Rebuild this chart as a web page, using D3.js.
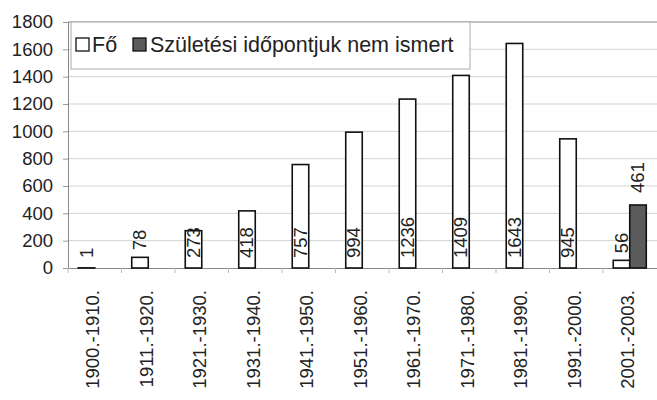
<!DOCTYPE html>
<html>
<head>
<meta charset="utf-8">
<script src="https://cdn.jsdelivr.net/npm/d3@7"></script>
<style>
  body { margin: 0; background: #fff; }
  text { font-family: "Liberation Sans", Arial, sans-serif; fill: #222; }
</style>
</head>
<body>
<svg id="chart" width="657" height="400"></svg>
<script>
// decades on the x axis
const categories = ['1900.-1910.', '1911.-1920.', '1921.-1930.', '1931.-1940.', '1941.-1950.',
  '1951.-1960.', '1961.-1970.', '1971.-1980.', '1981.-1990.', '1991.-2000.', '2001.-2003.'];
// "Fő" series
const foValues = [1, 78, 273, 418, 757, 994, 1236, 1409, 1643, 945, 56];
// "Születési időpontjuk nem ismert" – only the last group has a value
const unknownValues = [null, null, null, null, null, null, null, null, null, null, 461];
const yTicks = [0, 200, 400, 600, 800, 1000, 1200, 1400, 1600, 1800];
const seriesNames = ['Fő', 'Születési időpontjuk nem ismert'];

const svg = d3.select('#chart');
const m = {top: 22, left: 68, bottom: 132, right: 0.5};
const W = 657, H = 400;
const plotBottom = H - m.bottom;

const x = d3.scaleBand().domain(categories).range([m.left, W - m.right]);
const xs = d3.scaleBand().domain([0, 1]).range([0, x.bandwidth()]).paddingOuter(0.62).paddingInner(0);
const y = d3.scaleLinear().domain([0, 1800]).range([plotBottom, m.top]);

// gridlines
svg.append('g').selectAll('line').data(yTicks.filter(t => t > 0 && t < 1800)).join('line')
  .attr('x1', m.left).attr('x2', W).attr('y1', d => y(d)).attr('y2', d => y(d))
  .attr('stroke', '#d2d2d2').attr('stroke-width', 1);
// top border
svg.append('line').attr('x1', m.left).attr('x2', W).attr('y1', y(1800)).attr('y2', y(1800))
  .attr('stroke', '#888').attr('stroke-width', 1.2);

// y axis
const yAxis = svg.append('g').attr('transform', `translate(${m.left},0)`)
  .call(d3.axisLeft(y).tickValues(yTicks).tickFormat(d3.format('d')).tickSize(5).tickPadding(10));
yAxis.select('.domain').attr('stroke', '#888');
yAxis.selectAll('.tick line').attr('stroke', '#999');
yAxis.selectAll('text').attr('font-size', 18.5).attr('fill', '#222')
  .attr('font-family', '"Liberation Sans", Arial, sans-serif');

// x axis baseline
const xAxis = svg.append('g').attr('transform', `translate(0,${plotBottom})`)
  .call(d3.axisBottom(x).tickSize(0).tickFormat(''));
xAxis.select('.domain').attr('stroke', '#888');
svg.append('g').selectAll('line').data(categories).join('line')
  .attr('x1', d => x(d)).attr('x2', d => x(d))
  .attr('y1', plotBottom).attr('y2', plotBottom + 5).attr('stroke', '#bbb');

// x labels
svg.append('g').selectAll('text').data(categories).join('text')
  .attr('transform', d => `translate(${x(d) + x.bandwidth() / 2 - 2},290) rotate(-90)`)
  .attr('text-anchor', 'end').attr('dy', '0.35em').attr('font-size', 18.5)
  .text(d => d);

// bars
const groups = svg.append('g').selectAll('g').data(categories).join('g')
  .attr('transform', d => `translate(${x(d)},0)`);

groups.each(function (c, i) {
  const g = d3.select(this);
  [foValues[i], unknownValues[i]].forEach((v, s) => {
    if (v == null) return;
    g.append('rect')
      .attr('x', xs(s)).attr('width', xs.bandwidth())
      .attr('y', y(v)).attr('height', y(0) - y(v))
      .attr('fill', s === 0 ? '#fff' : '#5b5b5b')
      .attr('stroke', '#111').attr('stroke-width', 1.6);
    // first series: labels sit near the base, short bars push them up; second: above the bar
    let lblY;
    if (s === 0) lblY = y(v) > 250 ? Math.min(258, y(v) - 7) : 258;
    else lblY = y(v) - 12;
    g.append('text')
      .attr('transform', `translate(${xs(s) + xs.bandwidth() / 2},${lblY}) rotate(-90)`)
      .attr('dy', '0.35em').attr('font-size', 18.5).attr('text-anchor', 'start')
      .text(v);
  });
});

// legend
const lg = svg.append('g');
lg.append('rect').attr('x', 71).attr('y', m.top).attr('width', 399).attr('height', 47)
  .attr('fill', '#fff').attr('stroke', '#aaa');
const lgItems = [{x: 76, fill: '#fff', tx: 92}, {x: 133, fill: '#5b5b5b', tx: 150}];
lgItems.forEach((d, i) => {
  lg.append('rect').attr('x', d.x).attr('y', 38).attr('width', 13).attr('height', 13)
    .attr('fill', d.fill).attr('stroke', '#111').attr('stroke-width', 1.3);
  lg.append('text').attr('x', d.tx).attr('y', 52).attr('font-size', 21.5).text(seriesNames[i]);
});
</script>
</body>
</html>
